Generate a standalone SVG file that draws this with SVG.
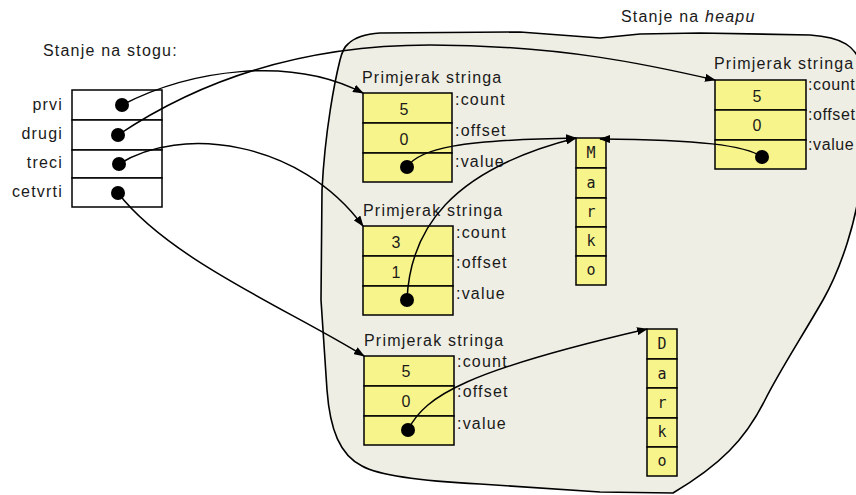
<svg xmlns="http://www.w3.org/2000/svg" width="856" height="495" viewBox="0 0 856 495">
<defs>
<style>
text{font-family:"Liberation Sans",Arial,sans-serif;font-size:16px;fill:#1a1a1a;letter-spacing:1.2px}
.mono{font-family:"DejaVu Sans Mono","Liberation Mono",monospace;font-size:15px;letter-spacing:0;text-anchor:middle}
.num{text-anchor:middle;letter-spacing:0}
.tight{letter-spacing:0.6px}
.cell{fill:#f8f48c;stroke:#000;stroke-width:1.5}
.stk{fill:#fff;stroke:#000;stroke-width:1.5}
.dot{fill:#000}
.conn{fill:none;stroke:#000;stroke-width:1.5;marker-end:url(#arr)}
.end{text-anchor:end}
</style>
<marker id="arr" markerUnits="userSpaceOnUse" markerWidth="11" markerHeight="8" refX="10" refY="4" orient="auto">
<path d="M0,0 L11,4 L0,8 Z" fill="#000"/>
</marker>
</defs>
<rect width="856" height="495" fill="#fff"/>

<g id="heap">
<path d="M348,44 C355,37 365,34 380,33 L520,32 L600,38 L640,34 L700,33 L810,35 C840,37 858,45 862,70 L862,170 C858,220 840,270 823,300 C800,340 780,370 765,400 C745,440 720,465 673,493 L600,492 L480,484 C420,481 380,476 362,466 C340,455 330,430 327,390 L321,300 L322,190 C325,130 335,80 340,60 C342,52 344,47 348,44 Z" fill="#efeee4" stroke="#000" stroke-width="1.6"/>
<text x="621" y="22">Stanje na <tspan font-style="italic">heapu</tspan></text>
</g>

<g id="stack">
<text x="43" y="56">Stanje na stogu:</text>
<rect class="stk" x="72" y="90" width="90" height="30"/>
<rect class="stk" x="72" y="120" width="90" height="30"/>
<rect class="stk" x="72" y="150" width="90" height="28"/>
<rect class="stk" x="72" y="178" width="90" height="29"/>
<text class="end" x="63" y="110">prvi</text>
<text class="end" x="63" y="139">drugi</text>
<text class="end" x="63" y="168">treci</text>
<text class="end" x="63" y="197">cetvrti</text>
<circle class="dot" cx="122" cy="105" r="7"/>
<circle class="dot" cx="118" cy="135" r="7"/>
<circle class="dot" cx="119" cy="164" r="7"/>
<circle class="dot" cx="118" cy="193" r="7"/>
</g>

<g id="string1">
<text x="362" y="83">Primjerak stringa</text>
<rect class="cell" x="363" y="93" width="89" height="30"/>
<rect class="cell" x="363" y="123" width="89" height="30"/>
<rect class="cell" x="363" y="153" width="89" height="29"/>
<text class="num" x="404" y="115">5</text>
<text class="num" x="404" y="145">0</text>
<text x="455" y="105">:count</text>
<text x="455" y="136">:offset</text>
<text x="455" y="167">:value</text>
<circle class="dot" cx="407" cy="167" r="7"/>
</g>

<g id="string2">
<text x="363" y="216">Primjerak stringa</text>
<rect class="cell" x="363" y="226" width="90" height="30"/>
<rect class="cell" x="363" y="256" width="90" height="30"/>
<rect class="cell" x="363" y="286" width="90" height="29"/>
<text class="num" x="396" y="248">3</text>
<text class="num" x="396" y="278">1</text>
<text x="456" y="238">:count</text>
<text x="456" y="268">:offset</text>
<text x="456" y="299">:value</text>
<circle class="dot" cx="407" cy="300" r="7"/>
</g>

<g id="string3">
<text x="364" y="346">Primjerak stringa</text>
<rect class="cell" x="364" y="356" width="90" height="30"/>
<rect class="cell" x="364" y="386" width="90" height="30"/>
<rect class="cell" x="364" y="416" width="90" height="29"/>
<text class="num" x="406" y="377">5</text>
<text class="num" x="406" y="407">0</text>
<text x="457" y="367">:count</text>
<text x="457" y="397">:offset</text>
<text x="457" y="429">:value</text>
<circle class="dot" cx="408" cy="430" r="7"/>
</g>

<g id="string4">
<text x="714" y="69">Primjerak stringa</text>
<rect class="cell" x="715" y="80" width="91" height="30"/>
<rect class="cell" x="715" y="110" width="91" height="30"/>
<rect class="cell" x="715" y="140" width="91" height="29"/>
<text class="num" x="757" y="102">5</text>
<text class="num" x="757" y="131">0</text>
<text class="tight" x="808" y="90">:count</text>
<text class="tight" x="808" y="120">:offset</text>
<text class="tight" x="808" y="150">:value</text>
<circle class="dot" cx="762" cy="157" r="7"/>
</g>

<g id="marko">
<rect class="cell" x="576" y="138" width="30" height="30"/>
<rect class="cell" x="576" y="168" width="30" height="30"/>
<rect class="cell" x="576" y="198" width="30" height="29"/>
<rect class="cell" x="576" y="227" width="30" height="29"/>
<rect class="cell" x="576" y="256" width="30" height="29"/>
<text class="mono" x="591" y="158">M</text>
<text class="mono" x="591" y="188">a</text>
<text class="mono" x="591" y="217">r</text>
<text class="mono" x="591" y="246">k</text>
<text class="mono" x="591" y="275">o</text>
</g>

<g id="darko">
<rect class="cell" x="647" y="329" width="30" height="30"/>
<rect class="cell" x="647" y="359" width="30" height="29"/>
<rect class="cell" x="647" y="388" width="30" height="30"/>
<rect class="cell" x="647" y="418" width="30" height="29"/>
<rect class="cell" x="647" y="447" width="30" height="29"/>
<text class="mono" x="662" y="349">D</text>
<text class="mono" x="662" y="379">a</text>
<text class="mono" x="662" y="408">r</text>
<text class="mono" x="662" y="437">k</text>
<text class="mono" x="662" y="466">o</text>
</g>

<g id="connectors">
<path class="conn" d="M122,105 C190,70 290,55 363,93"/>
<path class="conn" d="M118,135 C200,80 300,45 430,45 C560,45 650,65 715,80"/>
<path class="conn" d="M119,164 C180,125 300,140 363,226"/>
<path class="conn" d="M118,193 C170,260 290,310 364,356"/>
<path class="conn" d="M407,167 C420,148 460,140 576,138"/>
<path class="conn" d="M407,300 C410,230 450,170 576,138"/>
<path class="conn" d="M762,157 C745,145 700,140 600,139"/>
<path class="conn" d="M408,430 C425,395 470,370 647,329"/>
</g>
</svg>
